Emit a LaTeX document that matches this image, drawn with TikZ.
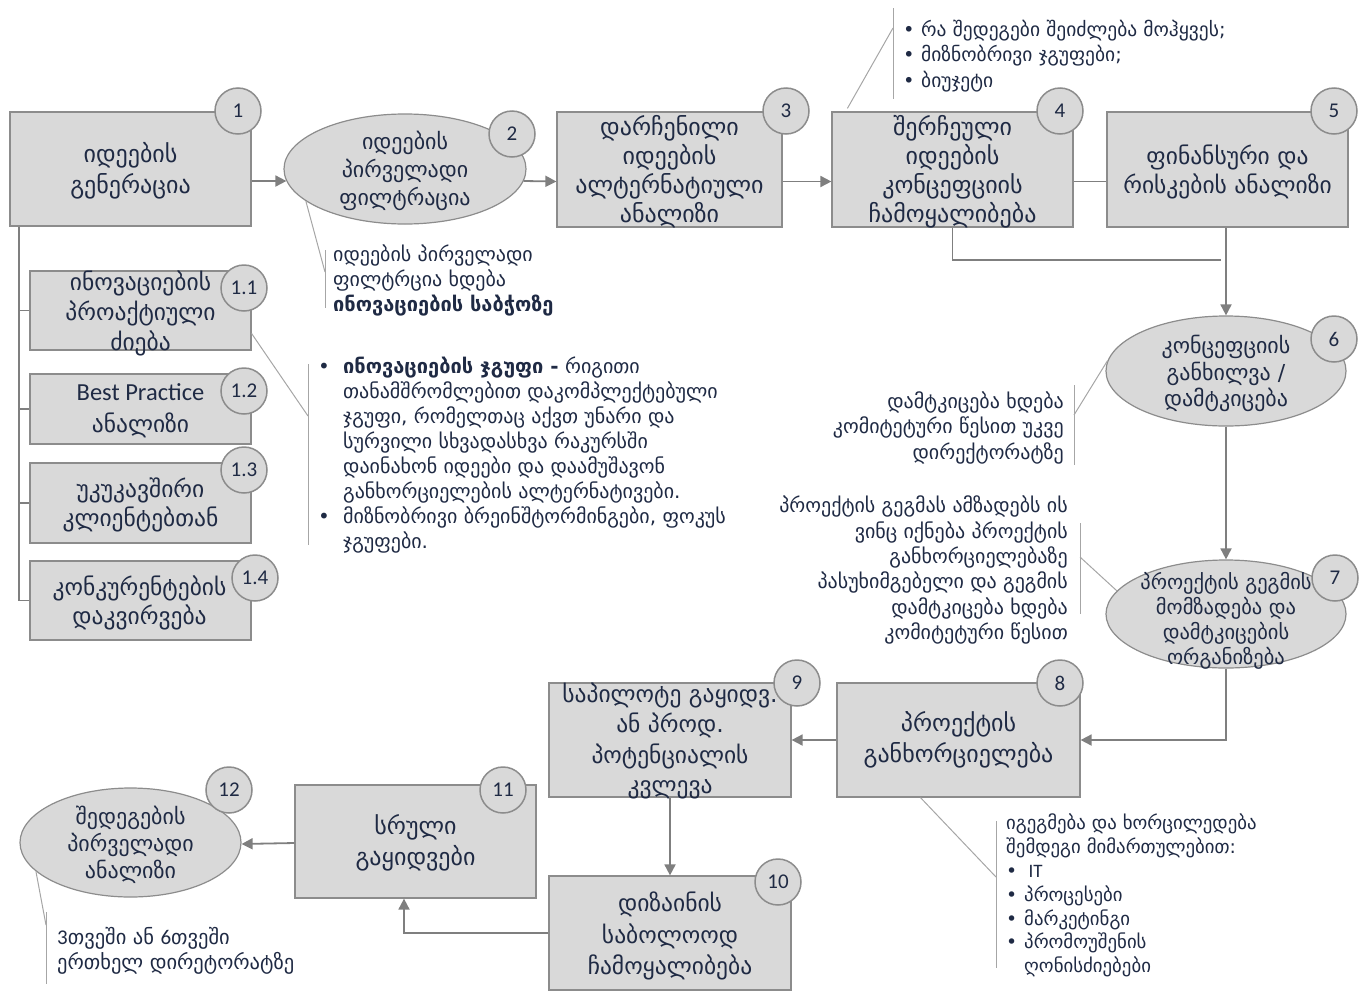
\documentclass[tikz,border=0pt]{standalone}
\usepackage{fontspec}
\setmainfont{DejaVu Sans}
\newfontfamily\numf{Carlito}
\usetikzlibrary{arrows.meta,shapes.geometric,calc}
\definecolor{boxfill}{HTML}{D9D9D9}
\definecolor{boxline}{HTML}{8C8C8C}
\definecolor{arrowc}{HTML}{7F7F7F}
\definecolor{textc}{HTML}{1F2A44}
\definecolor{callc}{HTML}{A6A6A6}
\newcommand{\bigtxt}{\fontsize{24}{30}\selectfont}
\newcommand{\smalltxt}{\fontsize{20}{25}\selectfont}
\newcommand{\tinytxt}{\fontsize{19.5}{25.5}\selectfont}
\newcommand{\bul}{\makebox[25pt][l]{•}}
\newcommand{\ind}{\hspace*{25pt}}
\tikzset{
 shapebox/.style={draw=boxline, fill=boxfill, line width=1.2pt, rectangle, inner sep=0pt},
 oval/.style={draw=boxline, fill=boxfill, line width=1.2pt, ellipse, inner sep=0pt},
 txt/.style={align=center, text=textc, font=\bigtxt, inner sep=0pt},
 badge/.style={circle, draw=boxline, fill=boxfill, line width=1.5pt, minimum size=46pt, inner sep=0pt, text=textc, font=\numf\fontsize{21}{24}\selectfont},
 flow/.style={draw=arrowc, line width=1.8pt, -{Triangle[length=11pt,width=11pt]}},
 plain/.style={draw=arrowc, line width=1.8pt},
 call/.style={draw=callc, line width=1pt},
 note/.style={text=textc, font=\smalltxt, inner sep=0pt, align=left},
}
\begin{document}
\begin{tikzpicture}[x=1pt,y=-1pt]
\useasboundingbox (0,0) rectangle (1368,991);
% main shapes
\node[shapebox, minimum width=241pt, minimum height=114pt] (b1) at (130.5,169) {};
\node[oval, minimum width=242pt, minimum height=110pt] (e2) at (405,169) {};
\node[shapebox, minimum width=225pt, minimum height=115pt] (b3) at (669.5,169.5) {};
\node[shapebox, minimum width=241pt, minimum height=115pt] (b4) at (952.5,169.5) {};
\node[shapebox, minimum width=241pt, minimum height=115pt] (b5) at (1227.5,169.5) {};
\node[oval, minimum width=240pt, minimum height=110pt] (e6) at (1226,371) {};
\node[oval, minimum width=240pt, minimum height=108pt] (e7) at (1226,614) {};
\node[shapebox, minimum width=243pt, minimum height=114pt] (b8) at (958.5,740) {};
\node[shapebox, minimum width=242pt, minimum height=114pt] (b9) at (670,740) {};
\node[shapebox, minimum width=242pt, minimum height=114pt] (b10) at (670,933) {};
\node[shapebox, minimum width=241pt, minimum height=113pt] (b11) at (415.5,841.5) {};
\node[oval, minimum width=221pt, minimum height=109pt] (e12) at (130.5,842.5) {};
\node[shapebox, minimum width=221pt, minimum height=79pt] (s1) at (140.5,310.5) {};
\node[shapebox, minimum width=221pt, minimum height=70pt] (s2) at (140.5,409) {};
\node[shapebox, minimum width=221pt, minimum height=80pt] (s3) at (140.5,503) {};
\node[shapebox, minimum width=221pt, minimum height=79pt] (s4) at (140.5,600.5) {};
% texts
\node[txt, font=\fontsize{24}{31}\selectfont] (t1) at ([yshift=-2pt]b1) {იდეების\\გენერაცია};
\node[txt, font=\fontsize{22}{28}\selectfont] (t2) at ([yshift=-2pt]e2) {იდეების\\პირველადი\\ფილტრაცია};
\node[txt, font=\fontsize{24}{29}\selectfont] (t3) at ([yshift=-2.5pt]b3) {დარჩენილი\\იდეების\\ალტერნატიული\\ანალიზი};
\node[txt, font=\fontsize{24}{29}\selectfont] (t4) at ([yshift=-2.5pt]b4) {შერჩეული\\იდეების\\კონცეფციის\\ჩამოყალიბება};
\node[txt, font=\fontsize{23.5}{29}\selectfont] (t5) at ([yshift=-2pt]b5) {ფინანსური და\\რისკების ანალიზი};
\node[txt, font=\fontsize{22}{26.5}\selectfont] (t6) at ([yshift=-2.5pt]e6) {კონცეფციის\\განხილვა /\\დამტკიცება};
\node[txt, font=\fontsize{20.5}{25}\selectfont] (t7) at ([yshift=-6.5pt]e7) {პროექტის გეგმის\\მომზადება და\\დამტკიცების\\ორგანიზება};
\node[txt, font=\fontsize{24}{31}\selectfont] (t8) at (b8) {პროექტის\\განხორციელება};
\node[txt, font=\fontsize{23.5}{30.5}\selectfont] (t9) at ([yshift=-1pt]b9) {საპილოტე გაყიდვ.\\ან პროდ.\\პოტენციალის\\კვლევა};
\node[txt, font=\fontsize{23.5}{31.5}\selectfont] (t10) at ([yshift=-3pt]b10) {დიზაინის\\საბოლოოდ\\ჩამოყალიბება};
\node[txt, font=\fontsize{24}{31}\selectfont] (t11) at ([yshift=-1.5pt]b11) {სრული\\გაყიდვები};
\node[txt, font=\fontsize{22}{27}\selectfont] (t12) at ([yshift=-2.5pt]e12) {შედეგების\\პირველადი\\ანალიზი};
\node[txt, font=\fontsize{23.5}{30}\selectfont] (ts1) at ([yshift=-2.5pt]s1) {ინოვაციების\\პროაქტიული\\ძიება};
\node[txt, font=\fontsize{23.5}{32}\selectfont] (ts2) at ([yshift=-2pt]s2) {{\numf\fontsize{24.5}{32}\selectfont Best Practice}\\ანალიზი};
\node[txt, font=\fontsize{23.5}{29}\selectfont] (ts3) at ([yshift=-2pt]s3) {უკუკავშირი\\კლიენტებთან};
\node[txt, font=\fontsize{23.5}{29}\selectfont] (ts4) at ([yshift=-2pt, xshift=-1pt]s4) {კონკურენტების\\დაკვირვება};
% badges
\node[badge] (n1) at (238,111) {1};
\node[badge] (n2) at (512,134) {2};
\node[badge] (n3) at (786,111) {3};
\node[badge] (n4) at (1060,111) {4};
\node[badge] (n5) at (1334,111) {5};
\node[badge] (n6) at (1334,339) {6};
\node[badge] (n7) at (1335,578) {7};
\node[badge] (n8) at (1060,683) {8};
\node[badge] (n9) at (797,683) {9};
\node[badge] (n10) at (778,882) {10};
\node[badge] (n11) at (503,790) {11};
\node[badge] (n12) at (229,790) {12};
\node[badge] (m1) at (244,288) {1.1};
\node[badge] (m2) at (244,391) {1.2};
\node[badge] (m3) at (244,470) {1.3};
\node[badge] (m4) at (255,578) {1.4};
% connectors
\draw[flow] ([yshift=-12pt]b1.east) -- ([xshift=3pt,yshift=-12pt]e2.west);
\draw[flow] ([xshift=-3pt,yshift=-12pt]e2.east) -- ([yshift=-12pt]b3.west);
\draw[flow] ([yshift=-12pt]b3.east) -- ([yshift=-12pt]b4.west);
\draw[plain] ([yshift=-12pt]b4.east) -- ([yshift=-12pt]b5.west);
\coordinate (j4) at ($(b4.south)+(0,32)$);
\coordinate (j4e) at ($(b5.south)+(-7,32)$);
\draw[plain] (b4.south) -- (j4) -- (j4e);
\draw[flow] ([xshift=-1.5pt]b5.south) -- (e6.north);
\draw[flow] (e6.south) -- (e7.north);
\draw[flow] (e7.south) |- (b8.east);
\draw[flow] (b8.west) -- (b9.east);
\draw[flow] (b9.south) -- (b10.north);
\draw[flow] (b10.west) -| ([xshift=-11.5pt]b11.south);
\draw[flow] ([yshift=-1.5pt]b11.west) -- ([yshift=-1.5pt]e12.east);
% left tree
\coordinate (tr0) at ([xshift=-111.5pt]b1.south);
\coordinate (tr4) at (tr0 |- s4.west);
\draw[plain] (tr0) -- (tr4) -- (s4.west);
\draw[plain] (tr0 |- s1.west) -- (s1.west);
\draw[plain] (tr0 |- s2.west) -- (s2.west);
\draw[plain] (tr0 |- s3.west) -- (s3.west);
% callout: ellipse 2
\coordinate (c2a) at (325,250);
\coordinate (c2b) at (325,308);
\coordinate (c2m) at (325,272);
\draw[call] (c2a) -- (c2b);
\draw[call] (e2.198) -- (c2m);
\node[note, anchor=north west] (a2) at (333,245) {იდეების პირველადი\\ფილტრცია ხდება\\\textbf{ინოვაციების საბჭოზე}};
% callout: 1.1
\coordinate (c11a) at (308,364);
\coordinate (c11b) at (308,545);
\coordinate (c11m) at (308,416);
\draw[call] (c11a) -- (c11b);
\draw[call] ([yshift=-23pt]s1.east) -- (c11m);
\node[note, anchor=north west] (a11) at (318,357) {\bul\textbf{ინოვაციების ჯგუფი -} რიგითი\\
\ind თანამშრომლებით დაკომპლექტებული\\
\ind ჯგუფი, რომელთაც აქვთ უნარი და\\
\ind სურვილი სხვადასხვა რაკურსში\\
\ind დაინახონ იდეები და დაამუშავონ\\
\ind განხორციელების ალტერნატივები.\\
\bul მიზნობრივი ბრეინშტორმინგები, ფოკუს\\
\ind ჯგუფები.};
% callout: box 4 (top)
\coordinate (c4a) at (893,8);
\coordinate (c4b) at (893,99);
\coordinate (c4m) at (893,28);
\draw[call] (c4a) -- (c4b);
\draw[call] ([xshift=16pt,yshift=3pt]b4.north west) -- (c4m);
\node[note, font=\tinytxt, anchor=north west] (a4) at (903,19.5) {\makebox[18pt][l]{•}რა შედეგები შეიძლება მოჰყვეს;\\\makebox[18pt][l]{•}მიზნობრივი ჯგუფები;\\\makebox[18pt][l]{•}ბიუჯეტი};
% callout: ellipse 6
\coordinate (c6a) at (1074,385);
\coordinate (c6b) at (1074,465);
\coordinate (c6m) at (1074,415);
\draw[call] (c6a) -- (c6b);
\draw[call] (e6.175) -- (c6m);
\node[note, align=right, anchor=north east, font=\fontsize{20}{25.5}\selectfont] (a6) at (1064,391.5) {დამტკიცება ხდება\\კომიტეტური წესით უკვე\\დირექტორატზე};
% callout: ellipse 7
\coordinate (c7a) at (1080,523);
\coordinate (c7b) at (1080,614);
\coordinate (c7m) at (1080,557);
\draw[call] (c7a) -- (c7b);
\draw[call] (e7.168) -- (c7m);
\node[note, align=right, anchor=north east, font=\fontsize{20}{25.3}\selectfont] (a7) at (1068,496) {პროექტის გეგმას ამზადებს ის\\ვინც იქნება პროექტის\\განხორციელებაზე\\პასუხიმგებელი და გეგმის\\დამტკიცება ხდება\\კომიტეტური წესით};
% callout: box 8
\coordinate (c8a) at (996,821);
\coordinate (c8b) at (996,968);
\coordinate (c8m) at (996,877);
\draw[call] (c8a) -- (c8b);
\draw[call] ([xshift=-38pt]b8.south) -- (c8m);
\node[note, anchor=north west, font=\fontsize{18.8}{23.8}\selectfont] (a8) at (1006,814) {იგეგმება და ხორცილედება\\შემდეგი მიმართულებით:\\\makebox[18pt][l]{•}{\numf\fontsize{19}{23}\selectfont\ IT}\\\makebox[18pt][l]{•}პროცესები\\\makebox[18pt][l]{•}მარკეტინგი\\\makebox[18pt][l]{•}პრომოუშენის\\\hspace*{18pt}ღონისძიებები};
% callout: ellipse 12
\coordinate (c12a) at (46,912);
\coordinate (c12b) at (46,984);
\coordinate (c12m) at (46,925);
\draw[call] (c12a) -- (c12b);
\draw[call] (e12.197) -- (c12m);
\node[note, anchor=north west, font=\fontsize{20.5}{25}\selectfont] (a12) at (57,927) {{\numf\fontsize{21}{25}\selectfont 3}თვეში ან {\numf\fontsize{21}{25}\selectfont 6}თვეში\\ერთხელ დირეტორატზე};
\end{tikzpicture}
\end{document}
